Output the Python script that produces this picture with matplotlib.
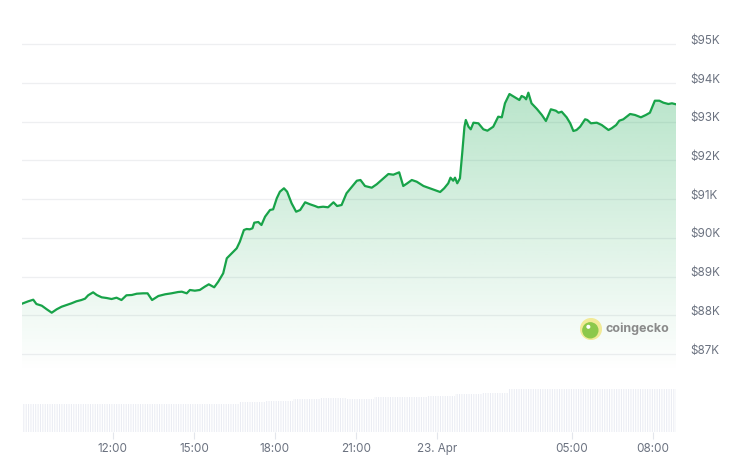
import matplotlib.pyplot as plt
import matplotlib.dates as mdates
import numpy as np
import pandas as pd
from matplotlib.patches import Circle
from matplotlib.transforms import ScaledTranslation

plt.rcParams['font.family'] = ['Inter', 'DejaVu Sans']
plt.rcParams['hatch.linewidth'] = 1.0
plt.rcParams['hatch.color'] = 'white'

# BTC price, 22 Apr -> 23 Apr (USD)
times_apr22 = ["08:38", "08:52", "09:03", "09:10", "09:22", "09:33", "09:44", "09:55",
               "10:06", "10:17", "10:28", "10:39", "10:50", "10:58", "11:05", "11:16",
               "11:24", "11:35", "11:46", "11:57", "12:08", "12:19", "12:30", "12:42",
               "12:53", "13:07", "13:17", "13:27", "13:41", "13:56", "14:10", "14:25",
               "14:33", "14:44", "14:51", "15:02", "15:13", "15:24", "15:33", "15:45",
               "15:54", "16:05", "16:13", "16:24", "16:35", "16:42", "16:51", "16:57",
               "17:04", "17:10", "17:14", "17:23", "17:30", "17:38", "17:49", "17:56",
               "18:04", "18:11", "18:20", "18:27", "18:37", "18:47", "18:56", "19:07",
               "19:18", "19:29", "19:36", "19:47", "19:58", "20:10", "20:18", "20:28",
               "20:39", "20:50", "21:02", "21:10", "21:20", "21:35", "21:46", "21:57",
               "22:12", "22:23", "22:36", "22:45", "22:54", "23:04", "23:15", "23:30",
               "23:44"]
prices_apr22 = [88300, 88362, 88403, 88292, 88248, 88155, 88067, 88155,
                88222, 88266, 88310, 88362, 88395, 88429, 88517, 88594,
                88525, 88465, 88447, 88421, 88455, 88395, 88517, 88525,
                88558, 88568, 88568, 88395, 88499, 88543, 88568, 88602,
                88610, 88568, 88654, 88636, 88654, 88739, 88801, 88724,
                88868, 89085, 89473, 89602, 89731, 89902, 90204, 90230,
                90222, 90248, 90393, 90411, 90333, 90548, 90721, 90739,
                91023, 91194, 91282, 91194, 90894, 90677, 90721, 90920,
                90868, 90824, 90791, 90806, 90791, 90920, 90824, 90850,
                91153, 91308, 91478, 91496, 91341, 91297, 91385, 91496,
                91651, 91633, 91695, 91341, 91411, 91496, 91452, 91341,
                91282]
times_apr23 = ["00:07", "00:16", "00:25", "00:30", "00:36", "00:40", "00:45", "00:51",
               "00:56", "01:01", "01:04", "01:10", "01:15", "01:21", "01:32", "01:43",
               "01:52", "02:05", "02:16", "02:24", "02:31", "02:41", "02:53", "03:03",
               "03:08", "03:14", "03:18", "03:23", "03:30", "03:42", "03:53", "04:02",
               "04:13", "04:24", "04:30", "04:37", "04:48", "04:56", "05:03", "05:10",
               "05:18", "05:29", "05:34", "05:42", "05:55", "06:06", "06:21", "06:28",
               "06:38", "06:45", "06:54", "07:09", "07:20", "07:33", "07:44", "07:53",
               "08:04", "08:14", "08:23", "08:34", "08:42", "08:51"]
prices_apr23 = [91186, 91282, 91411, 91556, 91478, 91556, 91411, 91540,
                92186, 92873, 93047, 92873, 92806, 92977, 92961, 92806,
                92770, 92873, 93132, 93116, 93478, 93718, 93633, 93563,
                93667, 93633, 93581, 93752, 93478, 93331, 93176, 93021,
                93323, 93287, 93235, 93261, 93116, 92961, 92762, 92788,
                92873, 93065, 93047, 92961, 92977, 92917, 92788, 92832,
                92917, 93028, 93065, 93202, 93176, 93116, 93176, 93235,
                93545, 93545, 93494, 93460, 93478, 93452]

# hourly 24h volume (billion USD), bars start at these times
vol_times = ["2025-04-22 08:40", "2025-04-22 09:40", "2025-04-22 10:40", "2025-04-22 11:40",
             "2025-04-22 12:40", "2025-04-22 13:40", "2025-04-22 14:40", "2025-04-22 15:40",
             "2025-04-22 16:40", "2025-04-22 17:40", "2025-04-22 18:40", "2025-04-22 19:40",
             "2025-04-22 20:40", "2025-04-22 21:40", "2025-04-22 22:40", "2025-04-22 23:40",
             "2025-04-23 00:40", "2025-04-23 01:40", "2025-04-23 02:40", "2025-04-23 03:40",
             "2025-04-23 04:40", "2025-04-23 05:40", "2025-04-23 06:40", "2025-04-23 07:40",
             "2025-04-23 08:40"]
vol_bn = [28.5, 28.5, 28.5, 28.5, 28.5, 28.5, 28.0, 28.5, 30.0, 31.5, 33.5, 34.0,
          33.0, 35.0, 35.5, 36.0, 38.0, 39.0, 43.0, 43.5, 43.5, 43.0, 43.0, 43.5, 43.5]

price_ticks = [87000, 88000, 89000, 90000, 91000, 92000, 93000, 94000, 95000]
price_labels = ['$87K', '$88K', '$89K', '$90K', '$91K', '$92K', '$93K', '$94K', '$95K']
x_tick_times = ["2025-04-22 12:00", "2025-04-22 15:00", "2025-04-22 18:00", "2025-04-22 21:00",
                "2025-04-23 00:00", "2025-04-23 05:00", "2025-04-23 08:00"]
x_labels = ['12:00', '15:00', '18:00', '21:00', '23. Apr', '05:00', '08:00']

t = mdates.date2num(pd.to_datetime(["2025-04-22 " + s for s in times_apr22] +
                                   ["2025-04-23 " + s for s in times_apr23]))
p = np.array(prices_apr22 + prices_apr23)
tv = mdates.date2num(pd.to_datetime(vol_times))
tx = mdates.date2num(pd.to_datetime(x_tick_times))

W, H = 740, 462
fig = plt.figure(figsize=(W / 100, H / 100), dpi=100, facecolor='white')

ax = fig.add_axes([22 / W, (H - 372) / H, 654 / W, 342 / H])
axv = fig.add_axes([22 / W, (H - 432) / H, 654 / W, 50 / H], sharex=ax)

green = '#18a349'
ybot, ytop = 86535, 95372
xlo, xhi = t[0], t[-1]

ax.plot(t, p, color=green, lw=1.6, zorder=3, solid_joinstyle='round')

# gradient fill under the line
fill = ax.fill_between(t, p, ybot, facecolor='none', edgecolor='none')
grad = np.zeros((256, 1, 4))
grad[:, 0, 0] = 22 / 255
grad[:, 0, 1] = 168 / 255
grad[:, 0, 2] = 80 / 255
grad[:, 0, 3] = np.linspace(0.0, 0.30, 256)
im = ax.imshow(grad, extent=[xlo, xhi, ybot, p.max()], origin='lower',
               aspect='auto', zorder=2, interpolation='bilinear')
im.set_clip_path(fill.get_paths()[0], transform=ax.transData)

ax.set_xlim(xlo, xhi)
ax.set_ylim(ybot, ytop)
ax.set_yticks(price_ticks)
ax.set_yticklabels(price_labels)
ax.yaxis.tick_right()
ax.tick_params(axis='y', length=0, pad=10, labelsize=8.4, labelcolor='#6b7280')
ax.tick_params(axis='x', length=0, labelbottom=False)
for lab in ax.get_yticklabels():
    lab.set_transform(lab.get_transform() + ScaledTranslation(0, 0.05, fig.dpi_scale_trans))
ax.grid(axis='y', color='#eeeff1', lw=0.9)
ax.set_axisbelow(True)
for s in ax.spines.values():
    s.set_visible(False)
ax.patch.set_alpha(0)

# volume bars
axv.bar(tv, vol_bn, width=1 / 24, align='edge', color='#eaecf3',
        edgecolor='white', linewidth=0, hatch='|' * 7)
axv.set_ylim(0, 50)
axv.set_yticks([])
axv.set_xticks(tx)
axv.set_xticklabels(x_labels)
axv.tick_params(axis='x', length=5, width=0.8, color='#e3e6ec', pad=3,
                labelsize=8.4, labelcolor='#6b7280')
for s in axv.spines.values():
    s.set_visible(False)
axv.patch.set_alpha(0)
ax.set_xlim(xlo, xhi)

# coingecko watermark
axl = fig.add_axes([580 / W, (H - 340) / H, 22 / W, 22 / H])
axl.set_xlim(0, 1)
axl.set_ylim(0, 1)
axl.set_aspect('equal')
axl.axis('off')
axl.add_patch(Circle((0.5, 0.5), 0.47, color='#f1ea97'))
axl.add_patch(Circle((0.47, 0.44), 0.34, color='#8cc84b'))
axl.add_patch(Circle((0.38, 0.6), 0.06, color='white'))
fig.text(606 / W, (H - 329) / H, 'coingecko', fontsize=9, fontweight='bold',
         color='#8a8a8a', va='center', ha='left')

fig.savefig('out.png', dpi=100, facecolor='white')
